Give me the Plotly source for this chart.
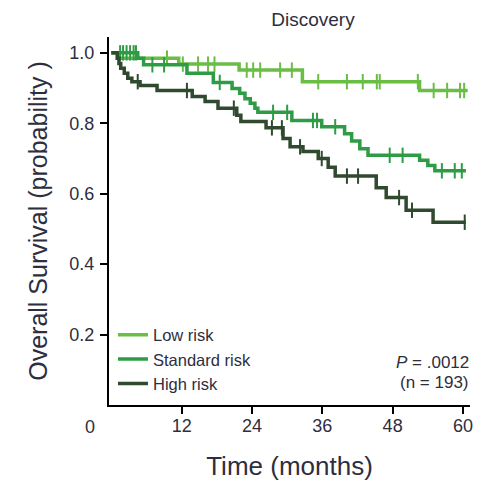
import numpy as np
import plotly.graph_objects as go

# ---- data (months, survival probability) ----
low_times = [0, 1.2, 11.5, 21.8, 32.6, 52.6]
low_surv = [1.0, 0.985, 0.968, 0.951, 0.918, 0.893]
low_end = 60.8
low_censor = [9.5, 12.2, 14.8, 16.5, 17.6, 23.1, 24.2, 25.4, 28.8, 30.8,
              35.3, 40.2, 42.9, 45.3, 45.8, 52.3, 55.0, 57.3, 59.5, 60.2]

std_times = [0, 4.5, 5.5, 12.9, 17.4, 20.6, 21.9, 22.8, 23.7, 24.5, 25.0,
             30.8, 35.9, 39.8, 41.0, 42.4, 43.8, 52.6, 54.0, 55.2]
std_surv = [1.0, 0.985, 0.966, 0.942, 0.916, 0.899, 0.885, 0.870, 0.857, 0.843, 0.831,
            0.808, 0.790, 0.770, 0.750, 0.728, 0.709, 0.695, 0.680, 0.665]
std_end = 60.5
std_censor = [1.5, 2.0, 2.6, 3.2, 3.8, 4.2, 7.0, 9.0, 18.5, 27.6, 30.0,
              34.4, 35.1, 38.2, 47.5, 49.7, 56.4, 58.6, 59.8]

high_times = [0, 1.0, 1.3, 1.6, 2.2, 2.8, 3.5, 4.9, 7.8, 13.8, 16.0, 18.2, 21.4, 22.1,
              26.4, 29.3, 30.5, 32.7, 35.3, 37.0, 38.2, 45.2, 46.9, 50.3, 54.9]
high_surv = [1.0, 0.985, 0.970, 0.956, 0.942, 0.928, 0.918, 0.907, 0.893, 0.876, 0.862,
             0.843, 0.823, 0.805, 0.787, 0.757, 0.733, 0.720, 0.700, 0.675, 0.650,
             0.617, 0.589, 0.553, 0.519]
high_end = 60.5
high_censor = [4.5, 12.9, 20.9, 27.4, 29.1, 32.2, 35.9, 40.2, 42.1, 49.1, 51.3, 60.3]

groups = ["Low risk", "Standard risk", "High risk"]
colors = ["#6abd45", "#2e9b45", "#2f4a2f"]

x_tickvals = [12, 24, 36, 48, 60]
y_tickvals = [0.2, 0.4, 0.6, 0.8, 1.0]
y_ticktext = ["0.2", "0.4", "0.6", "0.8", "1.0"]

FONT = "Liberation Sans, Arial, sans-serif"
TXT = "#2e2e3e"

series = [
    (low_times, low_surv, low_end, low_censor),
    (std_times, std_surv, std_end, std_censor),
    (high_times, high_surv, high_end, high_censor),
]

fig = go.Figure()
for (t, s, end, cens), name, col in zip(series, groups, colors):
    xs = list(t) + [end]
    ys = list(s) + [s[-1]]
    fig.add_trace(go.Scatter(x=xs, y=ys, mode="lines", line=dict(shape="hv", color=col, width=3.5),
                             name=name, showlegend=True))
    idx = np.searchsorted(np.array(t), np.array(cens), side="right") - 1
    cy = np.array(s)[idx]
    fig.add_trace(go.Scatter(x=cens, y=cy, mode="markers", showlegend=False,
                             marker=dict(symbol="line-ns", size=11, color=col,
                                         line=dict(color=col, width=2))))

W, H = 480, 478  # page body has an 8px margin
fig.update_layout(
    width=W, height=H,
    margin=dict(l=101, r=18, t=29, b=81, autoexpand=False),
    paper_bgcolor="white", plot_bgcolor="white",
    font=dict(family=FONT, color=TXT),
    title=dict(text="Discovery", x=305 / W, xanchor="center", y=1 - 11 / H, yanchor="middle",
               font=dict(size=19, color=TXT, family=FONT)),
    showlegend=True,
    legend=dict(x=0.011, y=0.238, xanchor="left", yanchor="top", bgcolor="rgba(0,0,0,0)",
                font=dict(size=16.5, color=TXT, family=FONT), itemwidth=30, tracegroupgap=0),
    xaxis=dict(range=[-0.4, 61.2], tickvals=x_tickvals, showgrid=False, zeroline=False,
               showline=True, linecolor="black", linewidth=2, ticks="outside", ticklen=7,
               tickwidth=2, tickcolor="black", tickfont=dict(size=18, color=TXT),
               ticklabelstandoff=-4,
               title=dict(text="Time (months)", font=dict(size=26, color=TXT), standoff=22)),
    yaxis=dict(range=[0, 1.045], tickvals=y_tickvals, ticktext=y_ticktext, showgrid=False,
               zeroline=False, showline=True, linecolor="black", linewidth=2, ticks="outside",
               ticklen=7, tickwidth=2, tickcolor="black", tickfont=dict(size=18, color=TXT),
               ticklabelstandoff=2,
               title=dict(text="Overall Survival (probability )", font=dict(size=25, color=TXT),
                          standoff=15)),
)

fig.add_annotation(x=-0.053, y=-0.06, xref="paper", yref="paper", text="0", showarrow=False,
                   xanchor="center", yanchor="middle", font=dict(size=18, color=TXT))
fig.add_annotation(x=1.003, y=(405 - 362) / 368, xref="paper", yref="paper",
                   text="<i>P</i> = .0012", showarrow=False, xanchor="right", yanchor="middle",
                   font=dict(size=17, color=TXT))
fig.add_annotation(x=1.003, y=(405 - 382) / 368, xref="paper", yref="paper",
                   text="(n = 193)", showarrow=False, xanchor="right", yanchor="middle",
                   font=dict(size=17, color=TXT))

fig.write_html("out.html")
